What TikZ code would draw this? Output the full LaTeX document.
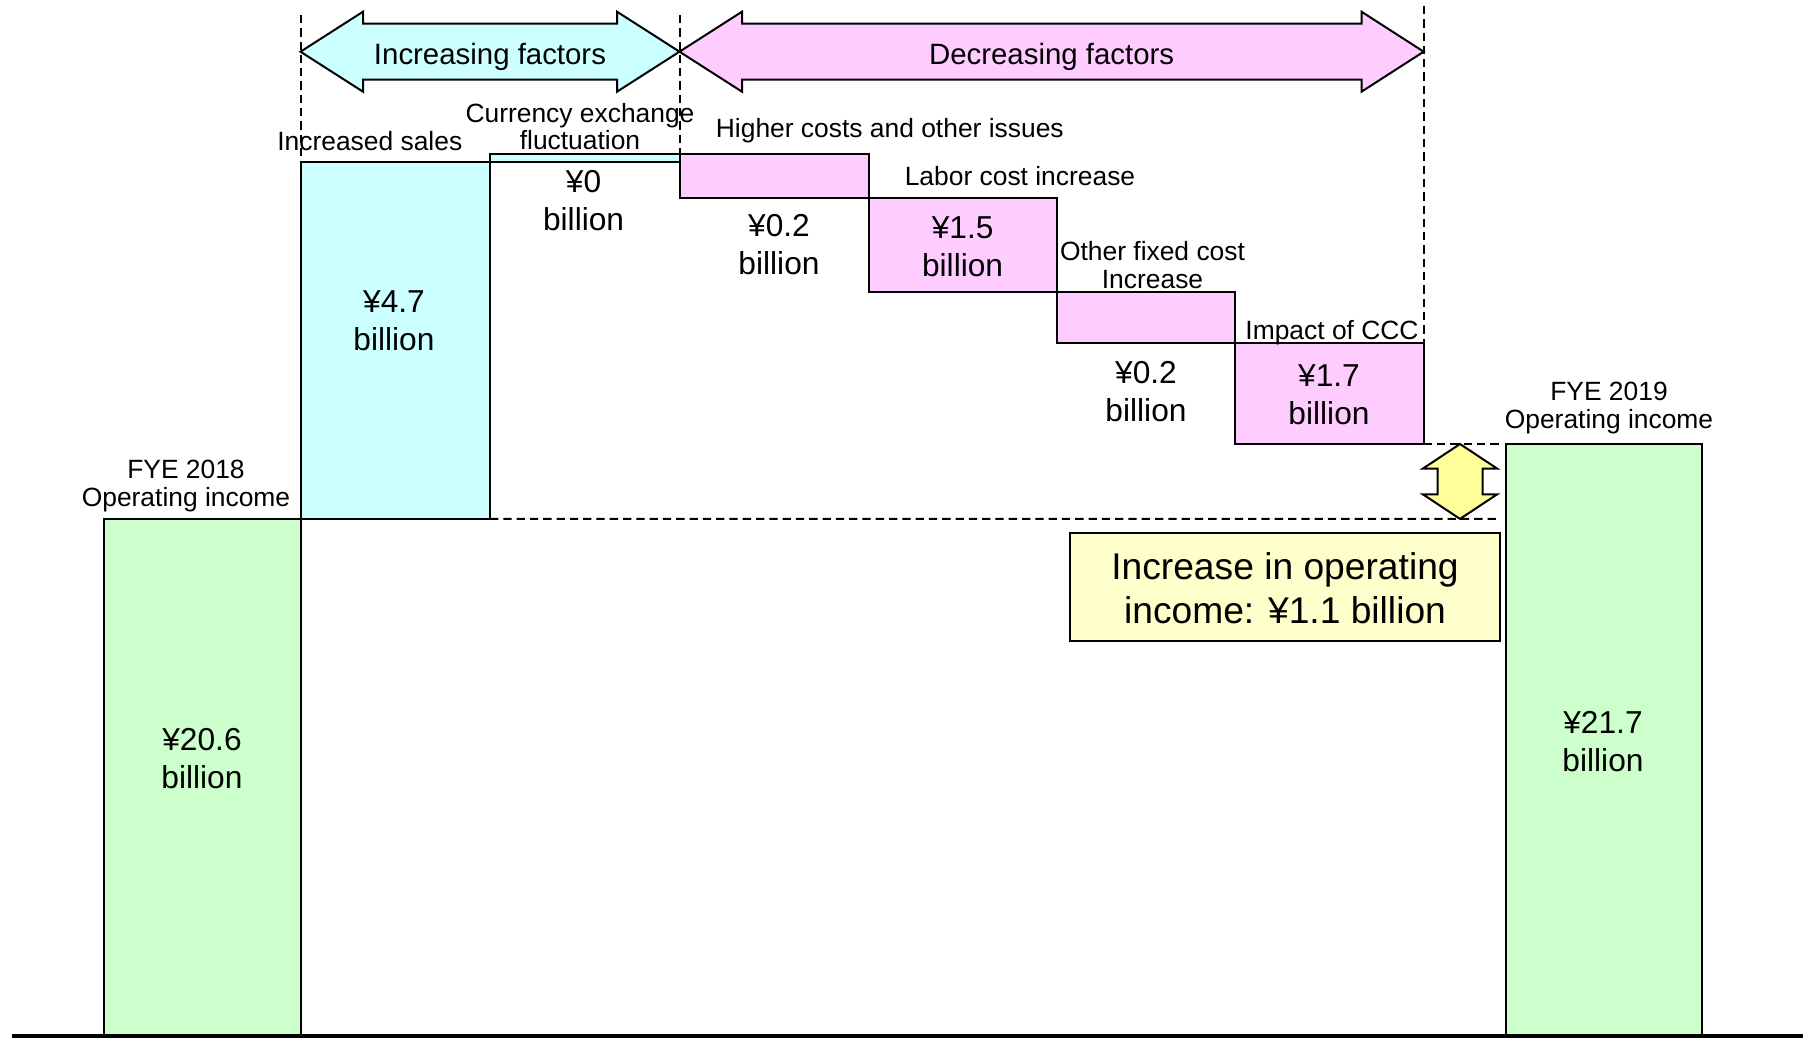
\documentclass[tikz,border=0pt]{standalone}
\usepackage{fontspec}
\setmainfont{Liberation Sans}
\definecolor{cyanf}{HTML}{CCFFFF}
\definecolor{pinkf}{HTML}{FFCCFF}
\definecolor{greenf}{HTML}{CCFFCC}
\definecolor{yelarrow}{HTML}{FFFF99}
\definecolor{yelbox}{HTML}{FFFFCC}
\begin{document}
\begin{tikzpicture}[x=1pt,y=-1pt,
  barbox/.style={draw=black, line width=2pt, anchor=north west, inner sep=0pt, outer sep=0pt},
  dashline/.style={line width=2pt, dash pattern=on 8.3pt off 5pt},
  arrowshape/.style={draw=black, line width=2pt, line join=miter},
  smalllbl/.style={align=center, inner sep=0pt, font=\fontsize{26.4}{27.5}\selectfont},
  arrowlbl/.style={align=center, inner sep=0pt, font=\fontsize{29.4}{35}\selectfont},
  vallbl/.style={align=center, inner sep=0pt, font=\fontsize{31.7}{38}\selectfont},
  boxlbl/.style={align=center, inner sep=0pt, font=\fontsize{37.2}{44}\selectfont}
]
\useasboundingbox (0,0) rectangle (1812,1038);

% bars
\node[barbox, fill=greenf, minimum width=196.5pt, minimum height=517.1pt] (g1) at (104,518.9) {};
\node[barbox, fill=cyanf, minimum width=189.5pt, minimum height=357.1pt] (cy) at (300.5,161.8) {};
\node[barbox, fill=cyanf, minimum width=189.5pt, minimum height=8.1pt] (fx) at (490,153.7) {};
\node[barbox, fill=pinkf, minimum width=189.5pt, minimum height=43.9pt] (hc) at (679.5,153.7) {};
\node[barbox, fill=pinkf, minimum width=188.4pt, minimum height=94.8pt] (lc) at (869,197.6) {};
\node[barbox, fill=pinkf, minimum width=177.9pt, minimum height=50.8pt] (of) at (1057.4,292.4) {};
\node[barbox, fill=pinkf, minimum width=188.4pt, minimum height=100.5pt] (cc) at (1235.3,343.2) {};
\node[barbox, fill=greenf, minimum width=196.4pt, minimum height=592.3pt] (g2) at (1505.8,443.7) {};
\node[barbox, fill=yelbox, minimum width=430pt, minimum height=108.7pt] (yb) at (1070,532.7) {};

% dashed guide lines
\coordinate (d1) at (300.5,15);
\coordinate (d2) at (679.5,15);
\coordinate (d3) at (1423.7,6);
\coordinate (e1) at (1500,518.9);
\coordinate (e2) at (1500,443.7);
\draw[dashline] (d1) -- (cy.north west);
\draw[dashline] (d2) -- (hc.north west);
\draw[dashline] (d3) -- (cc.north east);
\draw[dashline] (cy.south east) -- (e1);
\draw[dashline] (cc.south east) -- (e2);

% baseline
\coordinate (bl) at (11.6,1036);
\coordinate (br) at (1802.7,1036);
\draw[line width=3.7pt] (bl) -- (br);

% double arrows
\draw[arrowshape, fill=cyanf] (300.5,51.7) -- (363,11.7) -- (363,23.7) -- (617,23.7) -- (617,11.7)
  -- (679.5,51.7) -- (617,91.7) -- (617,79.7) -- (363,79.7) -- (363,91.7) -- cycle;
\draw[arrowshape, fill=pinkf] (679.5,51.7) -- (742,11.7) -- (742,23.7) -- (1361.5,23.7) -- (1361.5,11.7)
  -- (1423.7,51.7) -- (1361.5,91.7) -- (1361.5,79.7) -- (742,79.7) -- (742,91.7) -- cycle;
\draw[arrowshape, fill=yelarrow] (1460,444) -- (1497,468.5) -- (1482.5,468.5) -- (1482.5,494.4)
  -- (1497,494.4) -- (1460,518.9) -- (1423,494.4) -- (1437.5,494.4) -- (1437.5,468.5) -- (1423,468.5) -- cycle;

\node[arrowlbl] (incf) at (490,56.5) {Increasing factors};
\node[arrowlbl] (decf) at (1051.6,56.5) {Decreasing factors};

% small labels
\node[smalllbl] (l1) at (186,486) {FYE 2018\\Operating income};
\node[smalllbl] (l2) at (369.8,141) {Increased sales};
\node[smalllbl] (l3) at (580,126.5) {Currency exchange\\fluctuation};
\node[smalllbl] (l4) at (889.8,131) {Higher costs and other issues};
\node[smalllbl] (l5) at (1020,175.6) {Labor cost increase};
\node[smalllbl] (l6) at (1152.5,265.2) {Other fixed cost\\Increase};
\node[smalllbl] (l7) at (1332,333) {Impact of CCC};
\node[smalllbl] (l8) at (1609,408) {FYE 2019\\Operating income};

% values
\node[vallbl] (v1) at (202,758.6) {¥20.6\\billion};
\node[vallbl] (v2) at (394,320.6) {¥4.7\\billion};
\node[vallbl] (v3) at (583.6,200.5) {¥0\\billion};
\node[vallbl] (v4) at (779,244.4) {¥0.2\\billion};
\node[vallbl] (v5) at (962.6,246.7) {¥1.5\\billion};
\node[vallbl] (v6) at (1146,391.7) {¥0.2\\billion};
\node[vallbl] (v7) at (1329,395.2) {¥1.7\\billion};
\node[vallbl] (v8) at (1603,741.3) {¥21.7\\billion};

\node[boxlbl] (bt) at (1285,588.2) {Increase in operating\\income: ¥1.1 billion};
\end{tikzpicture}
\end{document}
